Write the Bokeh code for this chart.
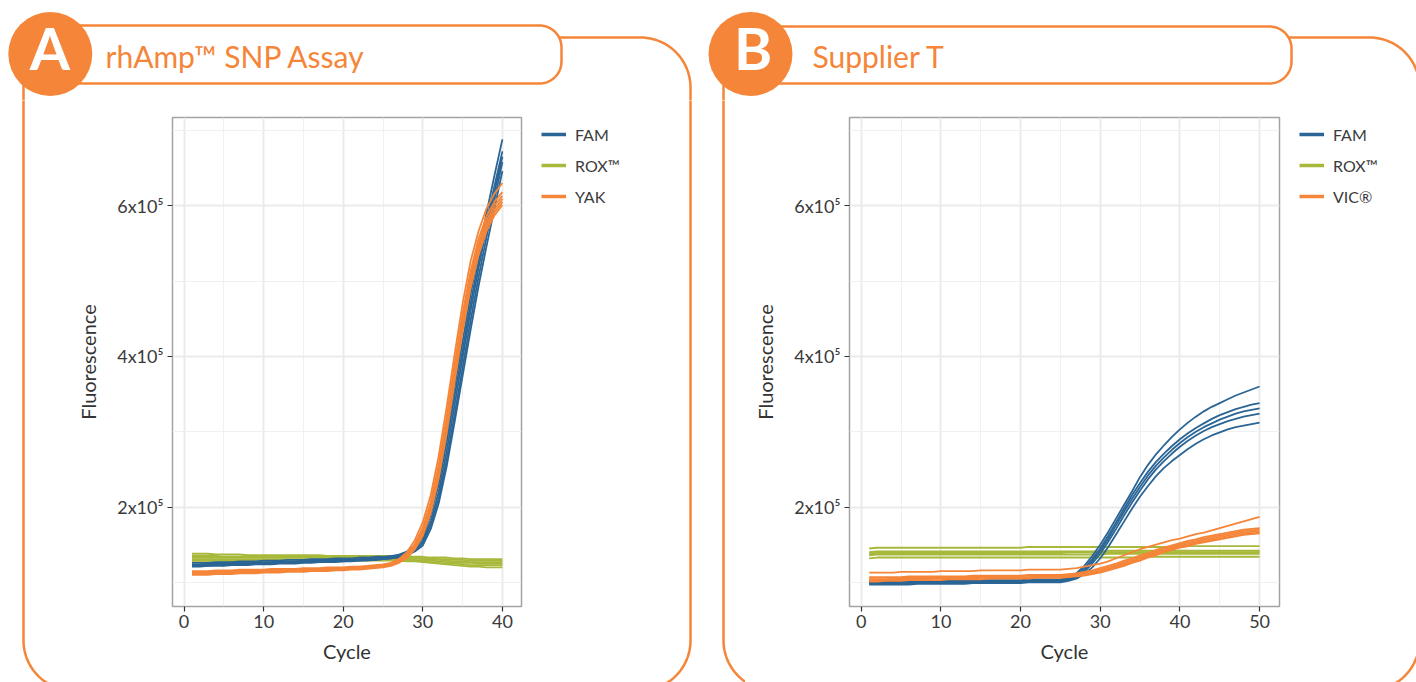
import math
from bokeh.plotting import figure
from bokeh.layouts import row, column
from bokeh.models import FixedTicker, Range1d, Legend, LegendItem, Label
from bokeh.embed import file_html
from bokeh.resources import INLINE

ORANGE = "#F58538"
BLUE = "#2A6595"
GREEN = "#A8B83A"
FONT = "Lato"

# ---------------- data (fluorescence in thousands) ----------------
cycles_a = list(range(1, 41))
cycles_b = list(range(1, 51))

fam_a = [
    [126,126,126,127,127,127,128,128,128,129, 129,129,130,130,130,131,131,131,132,132,
     132,133,133,134,134, 135,137,141,149,163, 198,240,298,360,420, 482,538,590,640,688],
    [124,124,125,125,125,126,126,126,127,127, 127,128,128,128,129,129,129,130,130,130,
     131,131,132,132,133, 134,136,140,147,159, 190,230,286,348,408, 470,526,578,626,672],
    [123,123,124,124,124,125,125,125,126,126, 126,127,127,127,128,128,128,129,129,129,
     130,130,131,131,132, 133,135,138,144,155, 182,220,274,336,398, 460,517,570,618,665],
    [122,122,122,123,123,124,124,124,125,125, 125,126,126,126,127,127,127,128,128,128,
     129,129,130,130,131, 132,134,137,142,152, 176,212,263,323,385, 447,505,558,608,658],
    [121,121,122,122,122,123,123,123,124,124, 124,125,125,125,126,126,127,127,127,128,
     128,129,129,130,131, 132,133,136,141,149, 171,205,254,313,374, 435,493,546,596,646],
]
rox_a = [
    [138,138,138,137,137,137,137,136,136,136, 136,136,136,136,136,136,136,135,135,135,
     135,135,135,135,135,135,135,135,134,134, 133,133,133,132,132,131,131,131,131,131],
    [135,135,135,135,134,134,134,134,134,134, 134,134,134,134,134,134,134,134,134,134,
     134,134,134,134,134,134,133,133,133,132, 132,131,131,130,130,129,129,129,129,129],
    [133,133,133,133,133,133,133,133,133,133, 133,133,133,133,133,133,133,133,133,133,
     133,133,133,133,133,133,132,132,132,131, 130,130,129,128,128,127,127,127,127,127],
    [131,131,131,131,131,131,131,131,131,131, 131,131,131,131,131,131,131,131,131,131,
     131,131,131,131,131,131,131,131,130,129, 129,128,127,127,126,126,125,125,125,125],
    [129,129,129,129,129,129,129,129,130,130, 130,130,130,130,130,130,130,130,130,130,
     130,130,130,130,130,130,130,129,129,128, 127,126,125,125,124,123,123,123,123,123],
    [127,127,127,127,127,128,128,128,128,128, 128,128,128,128,128,128,128,129,129,129,
     129,129,129,129,129,129,129,128,128,127, 126,125,124,123,122,121,121,120,120,120],
]
yak_a = [
    [115,115,115,116,116,116,117,117,117,117, 118,118,118,118,119,119,119,120,120,120,
     121,121,122,123,124, 126,131,140,156,180, 216,268,333,403,470, 526,566,596,616,630],
    [114,114,114,115,115,115,116,116,116,116, 117,117,117,117,118,118,118,119,119,119,
     120,120,121,122,123, 125,129,137,151,173, 207,257,320,390,457, 513,556,586,605,618],
    [113,113,113,114,114,114,115,115,115,115, 116,116,116,116,117,117,117,118,118,118,
     119,119,120,121,122, 124,128,135,149,170, 203,252,314,384,451, 507,550,580,600,613],
    [112,112,112,113,113,113,114,114,114,115, 115,115,116,116,116,117,117,117,118,118,
     119,119,120,121,122, 124,128,134,147,167, 199,247,309,378,446, 502,545,575,595,609],
    [111,111,111,112,112,112,113,113,113,114, 114,114,115,115,115,116,116,116,117,117,
     118,118,119,120,121, 123,127,133,146,165, 196,243,304,373,440, 497,540,571,591,605],
    [110,110,110,111,111,111,112,112,112,113, 113,113,114,114,114,115,115,115,116,116,
     117,117,118,119,120, 122,126,132,144,162, 192,238,298,366,433, 490,534,566,587,601],
]

fam_b = [
    [101,101,101,101,101,101,102,102,102,102, 102,102,102,103,103,103,103,103,103,103,
     104,104,104,104,104, 106,112,122,135,150, 167,185,203,221,240, 256,270,282,293,303,
     312,320,327,333,338, 343,348,352,356,360],
    [100,100,100,100,100,100,101,101,101,101, 101,101,101,102,102,102,102,102,102,102,
     103,103,103,103,103, 105,110,119,131,145, 162,180,198,216,232, 247,260,271,281,290,
     298,305,311,317,322, 326,330,333,336,338],
    [99,99,99,99,99,99,100,100,100,100, 100,100,100,101,101,101,101,101,101,101,
     102,102,102,102,102, 104,108,116,128,142, 158,176,194,211,227, 242,255,266,276,285,
     293,300,306,311,316, 320,324,327,329,331],
    [98,98,98,98,98,98,99,99,99,99, 99,99,99,100,100,100,100,100,100,100,
     101,101,101,101,101, 103,107,114,125,138, 154,171,189,206,222, 237,250,261,271,280,
     288,295,301,306,310, 314,317,320,322,324],
    [97,97,97,97,97,97,98,98,98,98, 98,98,98,99,99,99,99,99,99,99,
     100,100,100,100,100, 102,105,111,120,132, 147,164,181,198,214, 228,241,252,261,269,
     277,284,290,295,299, 303,306,308,310,312],
]
rox_b = [
    [145,146,146,146,146,146,146,146,146,146, 146,146,146,146,146,146,146,146,146,146,
     147,147,147,147,147,147,147,147,147,147, 147,147,147,147,147,147,147,147,147,147,
     148,148,148,148,148,148,148,148,148,148],
    [140,141,141,141,141,141,141,141,141,141, 141,141,141,141,141,141,141,141,141,141,
     141,141,141,141,141,141,141,141,141,141, 142,142,142,142,142,142,142,142,142,142,
     142,142,142,142,142,142,142,142,142,142],
    [138,139,139,139,139,139,139,139,139,139, 139,139,139,139,139,139,139,139,139,139,
     139,139,139,139,139,140,140,140,140,140, 140,140,140,140,140,140,140,140,140,140,
     140,140,140,140,140,140,140,140,140,140],
    [136,137,137,137,137,137,137,137,137,137, 137,137,137,137,137,137,137,137,137,137,
     137,137,137,137,137,137,137,137,137,137, 138,138,138,138,138,138,138,138,138,138,
     138,138,138,138,138,138,138,138,138,138],
    [132,133,133,133,133,133,133,133,133,133, 133,133,133,133,133,133,133,133,133,133,
     133,133,133,133,133,133,133,133,133,133, 133,133,133,133,133,134,134,134,134,134,
     134,134,134,134,134,134,134,134,134,134],
]
vic_b = [
    [113,113,113,113,114,114,114,114,114,115, 115,115,115,115,116,116,116,116,116,116,
     117,117,117,117,117, 118,119,121,123,125, 128,132,136,140,144, 147,150,153,156,158,
     161,164,166,169,172, 175,178,181,184,187],
    [107,107,107,107,107,108,108,108,108,108, 108,108,108,109,109,109,109,109,109,109,
     110,110,110,110,110, 111,112,114,116,119, 122,125,129,132,136, 139,143,146,149,152,
     155,157,160,162,164, 166,168,170,171,172],
    [106,106,106,106,106,107,107,107,107,107, 107,107,107,108,108,108,108,108,108,108,
     109,109,109,109,109, 110,111,113,115,117, 120,123,127,130,134, 137,141,144,147,150,
     153,155,158,160,162, 164,166,168,169,170],
    [104,104,104,105,105,105,105,105,106,106, 106,106,106,106,107,107,107,107,107,107,
     107,108,108,108,108, 109,110,111,113,115, 118,121,125,128,132, 135,139,142,145,148,
     151,153,156,158,160, 162,164,166,167,168],
    [103,103,103,104,104,104,104,104,105,105, 105,105,105,105,106,106,106,106,106,106,
     106,107,107,107,107, 108,109,110,112,114, 117,120,123,127,130, 134,137,141,144,147,
     149,152,154,156,158, 160,162,164,165,166],
    [101,101,102,102,102,103,103,103,103,103, 104,104,104,104,104,105,105,105,105,105,
     105,106,106,106,106, 107,108,109,111,113, 116,119,122,126,129, 133,136,140,143,146,
     148,151,153,155,157, 159,161,163,164,165],
]

y_ticks = [200, 400, 600]
y_tick_labels = ["2x10\u2075", "4x10\u2075", "6x10\u2075"]
y_minor = [100, 300, 500, 700]
x_ticks_a = [0, 10, 20, 30, 40]
x_minor_a = [5, 15, 25, 35]
x_ticks_b = [0, 10, 20, 30, 40, 50]
x_minor_b = [5, 15, 25, 35, 45]
labels_a = ["FAM", "ROX\u2122", "YAK"]
labels_b = ["FAM", "ROX\u2122", "VIC\u00ae"]
titles = ["rhAmp\u2122 SNP Assay", "Supplier T"]
letters = ["A", "B"]

for grp in (fam_a, rox_a, yak_a):
    for s in grp:
        assert len(s) == len(cycles_a), len(s)
for grp in (fam_b, rox_b, vic_b):
    for s in grp:
        assert len(s) == len(cycles_b), len(s)

# ---------------- page geometry (pixels) ----------------
W, H = 1416, 682
TOP_H = 100
FRAME_TOP, FRAME_BOTTOM = 117, 606
OUTER = [(23, 690, 37, 690), (723, 1419, 37, 690)]
HEADER = [(40, 561, 25, 83), (740, 1291, 26, 83)]
CIRCLE = [(49.8, 53.5), (750, 53.5)]
CIRCLE_R = 42
LETTER_X = [49.5, 752.5]
LETTER_SIZE = 58
TITLE_X = [105, 812]
TITLE_SIZE = 30
FRAME_W = 2.5
BASE_SHIFT = 0.43   # label baseline correction (em)


def no_align(p):
    if "frame_align" in p.properties():
        p.frame_align = False
    return p


def rrect(l, r, t, b, rad, n=24):
    xs, ys = [], []
    for cx, cy, a0, a1 in ((r - rad, t + rad, -90, 0), (r - rad, b - rad, 0, 90),
                           (l + rad, b - rad, 90, 180), (l + rad, t + rad, 180, 270)):
        for i in range(n + 1):
            a = math.radians(a0 + (a1 - a0) * i / n)
            xs.append(cx + rad * math.cos(a))
            ys.append(cy + rad * math.sin(a))
    return xs, ys


def deco(x0, x1, y0, y1):
    p = figure(width=x1 - x0, height=y1 - y0, x_range=Range1d(x0, x1), y_range=Range1d(y1, y0),
               output_backend="svg", toolbar_location=None, tools="",
               x_axis_type=None, y_axis_type=None,
               min_border_left=0, min_border_right=0, min_border_top=0, min_border_bottom=0)
    no_align(p)
    p.outline_line_color = None
    p.background_fill_color = "white"
    p.border_fill_color = "white"
    for (l, r, t, b) in OUTER:
        xs, ys = rrect(l, r, t, b, 50)
        p.patch(xs, ys, fill_color=None, line_color=ORANGE, line_width=FRAME_W)
    return p


# top strip: headers, badges, titles
top = deco(0, W, 0, TOP_H)
for i in range(2):
    l, r, t, b = HEADER[i]
    xs, ys = rrect(l, r, t, b, 22)
    top.patch(xs, ys, fill_color="white", line_color=ORANGE, line_width=FRAME_W)
    top.circle(x=[CIRCLE[i][0]], y=[CIRCLE[i][1]], radius=CIRCLE_R, fill_color=ORANGE,
               line_color=None)
    top.add_layout(Label(x=LETTER_X[i], y=71.7 - BASE_SHIFT * LETTER_SIZE, text=letters[i],
                         text_font=FONT, text_font_size=f"{LETTER_SIZE}px", text_color="white",
                         text_font_style="bold",
                         text_align="center", text_baseline="alphabetic"))
    top.add_layout(Label(x=TITLE_X[i], y=68 - BASE_SHIFT * TITLE_SIZE, text=titles[i],
                         text_font=FONT, text_font_size=f"{TITLE_SIZE}px", text_color=ORANGE,
                         text_align="left", text_baseline="alphabetic"))

COLORS = [BLUE, GREEN, ORANGE]


def add_legend(p, labels, gx, x0):
    items = []
    for gi in range(3):
        # legend swatch renderer: one point placed far outside the visible area
        r = p.line(x=[x0, x0 + 1], y=[-1000, -1000], line_color=COLORS[gi], line_width=3.5)
        items.append(LegendItem(label=labels[gi], renderers=[r]))
    leg = Legend(items=items, location=(gx, H - 206),
                 padding=0, margin=0, spacing=11, glyph_width=25, glyph_height=20,
                 label_height=20, label_standoff=9, label_text_font=FONT,
                 label_text_font_size="16px", label_text_color="#3B3B3B",
                 border_line_color=None, background_fill_alpha=0.0)
    p.add_layout(leg)


def panel(fig_left, fig_right, frame_left, frame_right, xr, xt, xm, cycles, groups):
    p = figure(width=fig_right - fig_left, height=H - TOP_H, x_range=Range1d(*xr),
               y_range=Range1d(68, 717), output_backend="svg", toolbar_location=None, tools="",
               min_border_left=frame_left - fig_left, min_border_right=fig_right - frame_right,
               min_border_top=FRAME_TOP - TOP_H, min_border_bottom=H - FRAME_BOTTOM)
    no_align(p)
    p.background_fill_color = "white"
    p.border_fill_color = "white"
    p.outline_line_color = "#A3A3A3"
    p.outline_line_width = 1.5
    for gi in (1, 0, 2):
        for s in groups[gi]:
            p.line(cycles, s, line_color=COLORS[gi], line_width=1.8)
    p.xaxis.ticker = FixedTicker(ticks=xt, minor_ticks=xm)
    p.yaxis.ticker = FixedTicker(ticks=y_ticks, minor_ticks=y_minor)
    p.yaxis.major_label_overrides = dict(zip(y_ticks, y_tick_labels))
    p.xaxis.axis_label = "Cycle"
    p.yaxis.axis_label = "Fluorescence"
    for ax in (p.xaxis[0], p.yaxis[0]):
        ax.axis_line_color = None
        ax.major_tick_line_color = "#333333"
        ax.major_tick_line_width = 1.2
        ax.major_tick_out = 5
        ax.major_tick_in = 0
        ax.minor_tick_line_color = None
        ax.major_label_text_font = FONT
        ax.major_label_text_font_size = "18px"
        ax.major_label_text_color = "#3A3A3A"
        ax.axis_label_text_font = FONT
        ax.axis_label_text_font_size = "20px"
        ax.axis_label_text_font_style = "normal"
        ax.axis_label_text_color = "#333333"
    p.xaxis.major_label_standoff = 3
    p.xaxis.axis_label_standoff = 8
    p.yaxis.major_label_standoff = 4
    p.yaxis.axis_label_standoff = 14
    for g in (p.xgrid[0], p.ygrid[0]):
        g.grid_line_color = "#EBEBEB"
        g.grid_line_width = 2
        g.minor_grid_line_color = "#F0F0F0"
        g.minor_grid_line_width = 1
    return p


f1 = deco(0, 60, TOP_H, H)
pa = panel(60, 530, 172, 521, (-1.45, 42.4), x_ticks_a, x_minor_a, cycles_a,
           [fam_a, rox_a, yak_a])
f2 = deco(530, 745, TOP_H, H)
add_legend(f2, labels_a, 541 - 530, 530)
pb = panel(745, 1290, 849, 1279, (-1.47, 52.5), x_ticks_b, x_minor_b, cycles_b,
           [fam_b, rox_b, vic_b])
f3 = deco(1290, W, TOP_H, H)
add_legend(f3, labels_b, 1299 - 1290, 1290)

layout = column(top, row(f1, pa, f2, pb, f3))
open("out.html", "w").write(file_html(layout, INLINE, title="rhAmp SNP Assay vs Supplier T"))
